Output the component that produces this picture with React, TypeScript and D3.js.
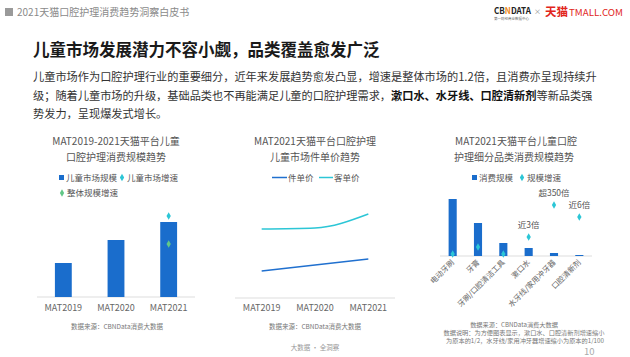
import React from 'react';
import * as d3 from 'd3';

const years = ['MAT2019', 'MAT2020', 'MAT2021'];
const childMarketSize = [34, 57, 75];
const childMarketGrowth: (number | null)[] = [null, null, 81];
const overallGrowth: (number | null)[] = [null, null, 53];
const unitPrice = [27, 33, 39];
const customerPrice = [69, 70, 84];
const categories = ['电动牙刷', '牙膏', '牙刷/口腔清洁工具', '漱口水', '水牙线/家用冲牙器', '口腔清新剂'];
const categorySize = [57, 33, 13, 8, 3, 1];
const categoryGrowth = [2, 9, 2, 19, 51, 39];
const categoryNotes = ['', '', '', '近3倍', '超350倍', '近6倍'];

const FONT = '"Noto Sans CJK SC", "Noto Sans", sans-serif';
const BLUE = '#1a6dcc';
const CYAN = '#2cc6d6';
const GREEN = '#62c787';
const LBLUE = '#2070cf';
const AXIS = '#dddddd';
const TXT = '#555';

const diamond = d3.symbol().type(d3.symbolDiamond).size(16)()!;

export default function App() {
  // chart 1
  const x1 = d3.scaleBand().domain(years).range([37, 195]).paddingInner(0.68).paddingOuter(0.34);
  const y1 = d3.scaleLinear().domain([0, 100]).range([297, 197]);
  // chart 2
  const x2 = d3.scalePoint().domain(years).range([235, 395]).padding(0.5);
  const y2 = d3.scaleLinear().domain([0, 100]).range([298, 198]);
  const line2 = d3
    .line<number>()
    .x((_, i) => x2(years[i])!)
    .y((d) => y2(d))
    .curve(d3.curveMonotoneX);
  // chart 3
  const x3 = d3.scaleBand().domain(categories).range([440, 592]).paddingInner(0.68).paddingOuter(0.34);
  const y3 = d3.scaleLinear().domain([0, 100]).range([256, 156]);

  return (
    <svg
      width={630}
      height={357}
      style={{ position: 'absolute', left: 0, top: 0, background: '#fff' }}
      fontFamily={FONT}
    >
      {/* header */}
      <rect x={5} y={8} width={8} height={8} fill="#9a9a9a" />
      <text x={17} y={16} fontSize={10} fill="#8a8a8a">2021天猫口腔护理消费趋势洞察白皮书</text>
      <text x={494} y={14} fontSize={9} fontWeight={700} fill="#222" textLength={37} lengthAdjust="spacingAndGlyphs">
        CB<tspan fill="#f08a24">N</tspan>DATA
      </text>
      <text x={494} y={20} fontSize={3.5} fill="#666">第一财经商业数据中心</text>
      <text x={534} y={14} fontSize={7} fill="#888">×</text>
      <text x={545} y={16} fontSize={11.5} fontWeight={700} fill="#e1251b">天猫</text>
      <text x={569} y={15.5} fontSize={9} fill="#e1251b" textLength={54} lengthAdjust="spacingAndGlyphs">TMALL.COM</text>

      {/* title */}
      <text x={33} y={56} fontSize={16.5} fontWeight={700} fill="#1a1a1a">儿童市场发展潜力不容小觑，品类覆盖愈发广泛</text>
      <text fontSize={11.2} fill="#333">
        <tspan x={33} y={81}>儿童市场作为口腔护理行业的重要细分，近年来发展趋势愈发凸显，增速是整体市场的1.2倍，且消费亦呈现持续升</tspan>
        <tspan x={33} y={100}>级；随着儿童市场的升级，基础品类也不再能满足儿童的口腔护理需求，</tspan>
        <tspan fontWeight={700} fill="#111">漱口水、水牙线、口腔清新剂</tspan>
        <tspan>等新品类强</tspan>
        <tspan x={33} y={118}>势发力，呈现爆发式增长。</tspan>
      </text>

      {/* chart titles */}
      <g fontSize={10} fill={TXT} textAnchor="middle">
        <text x={116} y={145}>MAT2019-2021天猫平台儿童</text>
        <text x={116} y={161}>口腔护理消费规模趋势</text>
        <text x={315} y={145}>MAT2021天猫平台口腔护理</text>
        <text x={315} y={161}>儿童市场件单价趋势</text>
        <text x={516} y={145}>MAT2021天猫平台儿童口腔</text>
        <text x={514} y={161}>护理细分品类消费规模趋势</text>
      </g>

      {/* chart 1 legend */}
      <g fontSize={8.5} fill={TXT}>
        <rect x={59} y={175} width={5} height={5} fill={BLUE} />
        <text x={66} y={180.5}>儿童市场规模</text>
        <path d={diamond} transform="translate(122,177.5)" fill={CYAN} />
        <text x={127} y={180.5}>儿童市场增速</text>
        <path d={diamond} transform="translate(62,193)" fill={GREEN} />
        <text x={67} y={196}>整体规模增速</text>
      </g>
      {/* chart 1 */}
      <line x1={37} x2={195} y1={y1(0)} y2={y1(0)} stroke={AXIS} strokeWidth={1} />
      {years.map((yr, i) => (
        <rect key={yr} x={x1(yr)} y={y1(childMarketSize[i])} width={x1.bandwidth()} height={y1(0) - y1(childMarketSize[i])} fill={BLUE} />
      ))}
      {years.map((yr, i) =>
        childMarketGrowth[i] != null ? (
          <path key={'cg' + yr} d={diamond} transform={`translate(${x1(yr)! + x1.bandwidth() / 2},${y1(childMarketGrowth[i]!)})`} fill={CYAN} />
        ) : null
      )}
      {years.map((yr, i) =>
        overallGrowth[i] != null ? (
          <path key={'og' + yr} d={diamond} transform={`translate(${x1(yr)! + x1.bandwidth() / 2},${y1(overallGrowth[i]!)})`} fill={GREEN} />
        ) : null
      )}
      <g fontSize={9} fill="#666" textAnchor="middle">
        {years.map((yr) => (
          <text key={yr} x={x1(yr)! + x1.bandwidth() / 2} y={311}>{yr}</text>
        ))}
      </g>

      {/* chart 2 legend */}
      <g fontSize={8.5} fill={TXT}>
        <line x1={272} x2={287} y1={177.5} y2={177.5} stroke={LBLUE} strokeWidth={1.5} />
        <text x={288} y={180.5}>件单价</text>
        <line x1={319} x2={333} y1={177.5} y2={177.5} stroke={CYAN} strokeWidth={1.5} />
        <text x={334} y={180.5}>客单价</text>
      </g>
      <line x1={235} x2={395} y1={y2(0)} y2={y2(0)} stroke={AXIS} strokeWidth={1} />
      <path d={line2(customerPrice)!} fill="none" stroke={CYAN} strokeWidth={1.5} />
      <path d={line2(unitPrice)!} fill="none" stroke={LBLUE} strokeWidth={1.5} />
      <g fontSize={9} fill="#666" textAnchor="middle">
        {years.map((yr) => (
          <text key={yr} x={x2(yr)} y={311}>{yr}</text>
        ))}
      </g>

      {/* chart 3 legend */}
      <g fontSize={8.5} fill={TXT}>
        <rect x={472} y={175} width={5} height={5} fill={BLUE} />
        <text x={479} y={180.5}>消费规模</text>
        <path d={diamond} transform="translate(522,177.5)" fill={CYAN} />
        <text x={527} y={180.5}>规模增速</text>
      </g>
      <line x1={440} x2={592} y1={y3(0)} y2={y3(0)} stroke={AXIS} strokeWidth={1} />
      {categories.map((c, i) => (
        <rect key={c} x={x3(c)} y={y3(categorySize[i])} width={x3.bandwidth()} height={y3(0) - y3(categorySize[i])} fill={BLUE} />
      ))}
      {categories.map((c, i) => (
        <path key={'g' + c} d={diamond} transform={`translate(${x3(c)! + x3.bandwidth() / 2},${y3(categoryGrowth[i])})`} fill={CYAN} />
      ))}
      <g fontSize={8.5} fill={TXT} textAnchor="middle">
        {categories.map((c, i) =>
          categoryNotes[i] ? (
            <text key={'n' + c} x={x3(c)! + x3.bandwidth() / 2} y={y3(categoryGrowth[i]) - 9}>{categoryNotes[i]}</text>
          ) : null
        )}
      </g>
      <g fontSize={7.5} fill="#666" textAnchor="end">
        {categories.map((c) => (
          <text key={'l' + c} transform={`translate(${x3(c)! + x3.bandwidth() / 2 + 2},${263}) rotate(-45)`}>{c}</text>
        ))}
      </g>

      {/* footnotes */}
      <g fontSize={6.5} fill="#777" textAnchor="middle">
        <text x={117} y={329}>数据来源：CBNData消费大数据</text>
        <text x={315} y={329}>数据来源：CBNData消费大数据</text>
        <text x={315} y={350} fill="#999">大数据 · 全洞察</text>
      </g>
      <g fontSize={6.2} fill="#777" textAnchor="middle">
        <text x={514} y={326.5}>数据来源：CBNData消费大数据</text>
        <text x={524} y={334.5}>数据说明：为方便图表显示，漱口水、口腔清新剂增速缩小</text>
        <text x={525} y={342.5}>为原本的1/2，水牙线/家用冲牙器增速缩小为原本的1/100</text>
      </g>
      <text x={584} y={355} fontSize={9.5} fill="#aaa">10</text>
    </svg>
  );
}
